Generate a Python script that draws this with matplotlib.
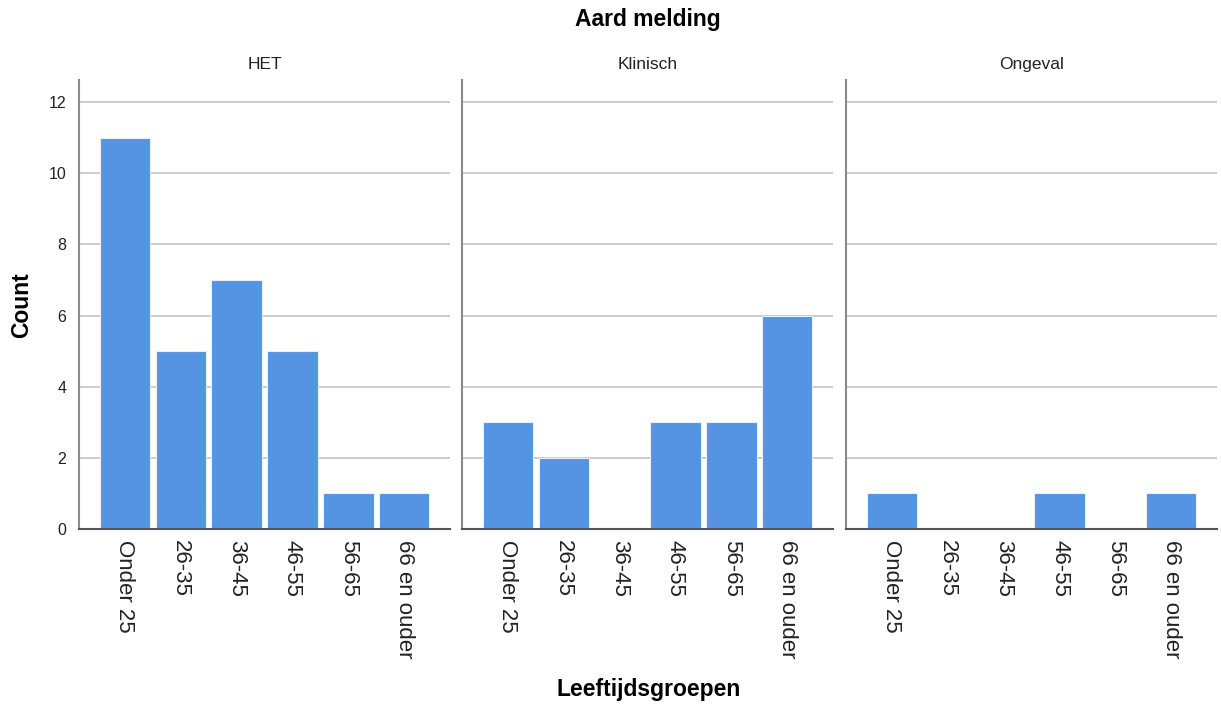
import matplotlib
matplotlib.use("Agg")
import matplotlib.pyplot as plt

plt.rcParams["font.family"] = ["Liberation Sans", "DejaVu Sans"]

# Counts per age group, one list per type of report
age_groups = ["Onder 25", "26-35", "36-45", "46-55", "56-65", "66 en ouder"]
panels = ["HET", "Klinisch", "Ongeval"]
het_counts = [11, 5, 7, 5, 1, 1]
klinisch_counts = [3, 2, 0, 3, 3, 6]
ongeval_counts = [1, 0, 0, 1, 0, 1]
all_counts = [het_counts, klinisch_counts, ongeval_counts]
y_ticks = [0, 2, 4, 6, 8, 10, 12]

BAR_COLOR = "#5594e3"
GRID_COLOR = "#c8c8c8"
SPINE_COLOR = "#8a8a8a"

fig = plt.figure(figsize=(12.21, 7.11), dpi=100)

lefts = [0.0647, 0.3784, 0.6929]
width = 0.3039
bottom = 0.256
height = 0.6315

for i, (name, counts) in enumerate(zip(panels, all_counts)):
    ax = fig.add_axes([lefts[i], bottom, width, height])
    x = range(len(age_groups))
    ax.bar(x, counts, width=0.9, color=BAR_COLOR, edgecolor="#e6f0fb",
           linewidth=0.8, zorder=2)
    ax.set_xlim(-0.82, 5.82)
    ax.set_ylim(0, 12.62)
    ax.set_yticks(y_ticks)
    ax.yaxis.grid(True, color=GRID_COLOR, linewidth=1.3, zorder=0)
    ax.set_axisbelow(True)
    ax.set_xticks(list(x))
    ax.set_xticklabels(age_groups, rotation=270, fontsize=16,
                       va="top", ha="center", color="#222222")
    ax.tick_params(axis="x", length=0, pad=8)
    ax.tick_params(axis="y", length=0, pad=9, labelsize=11.5,
                   labelcolor="#222222")
    for side in ["top", "right"]:
        ax.spines[side].set_visible(False)
    ax.spines["left"].set_color(SPINE_COLOR)
    ax.spines["left"].set_linewidth(1.5)
    ax.spines["bottom"].set_color("#555555")
    ax.spines["bottom"].set_linewidth(1.5)
    if i > 0:
        ax.tick_params(axis="y", labelleft=False)
    ax.set_title(name, fontsize=12.5, pad=8, color="#222222")

fig.text(0.531, 0.972, "Aard melding", ha="center", va="center",
         fontsize=16.5, fontweight="bold")
fig.text(0.531, 0.03, "Leeftijdsgroepen", ha="center", va="center",
         fontsize=16.5, fontweight="bold")
fig.text(0.018, 0.571, "Count", ha="center", va="center", rotation=90,
         fontsize=16.5, fontweight="bold")

fig.savefig("out.png", dpi=100)
